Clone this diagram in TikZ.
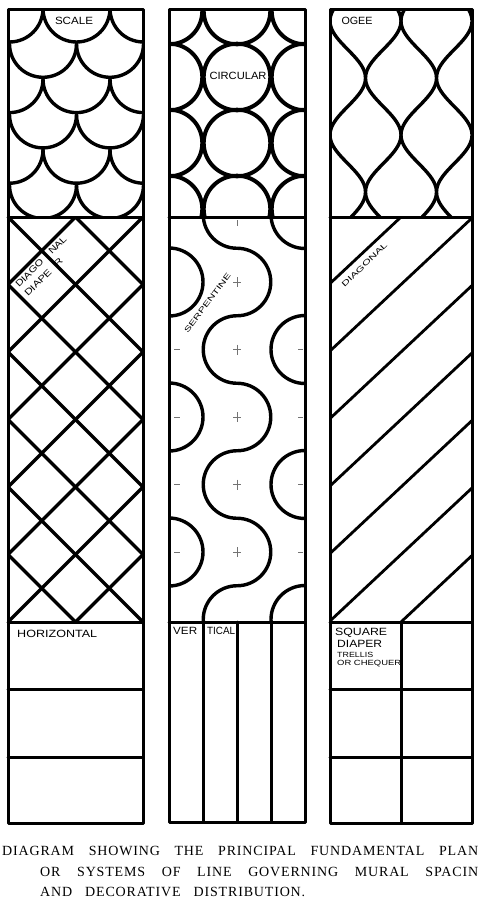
\documentclass[tikz,border=0pt]{standalone}
\usepackage{fontspec}
\usepackage{graphicx}
\setmainfont{Liberation Serif}
\newfontfamily\capfont[LetterSpace=6]{Liberation Serif}
\newfontfamily\handfont{Liberation Sans}
\newsavebox\lblbox
\newlength\lblw
\newcommand\fitw[2]{\sbox\lblbox{#2}\setlength\lblw{\wd\lblbox}\pgfmathsetmacro\fitf{#1/\lblw}\scalebox{\fitf}[1]{\usebox\lblbox}}
\begin{document}
\begin{tikzpicture}[x=1pt,y=-1pt,
  frame/.style={line width=3pt,line join=round,line cap=round},
  pat/.style={line width=3.4pt,line cap=round,line join=round},
  circ/.style={line width=4pt},
  lbl/.style={font=\handfont\fontsize{10.5}{12}\selectfont,inner sep=0pt},
  mlbl/.style={font=\handfont\fontsize{9}{10}\selectfont,inner sep=0pt},
  slbl/.style={font=\handfont\fontsize{7.5}{8}\selectfont,inner sep=0pt},
  caption/.style={font=\capfont\fontsize{14}{16}\selectfont,inner sep=0pt,anchor=base west},
  faint/.style={line width=0.6pt,black!55}]
\useasboundingbox (0,0) rectangle (480,900);

% ---------- column 1 top: scale ----------
\begin{scope}
  \clip (8,9) rectangle (143,217);
  \foreach \yc in {8.5,79.1,149.7}
    \foreach \xc in {9.5,76.5,143.5}
      \draw[pat] (\xc+33.5,\yc) arc[start angle=0,end angle=180,radius=33.5];
  \foreach \yc in {43.8,114.4,185}
    \foreach \xc in {43,110}
      \draw[pat] (\xc+33.5,\yc) arc[start angle=0,end angle=180,radius=33.5];
\end{scope}

% ---------- column 2 top: circular ----------
\begin{scope}
  \clip (169,9) rectangle (305,217);
  \foreach \yc in {11,77,143,209}
    \foreach \xc in {169,237,305}
      \draw[circ] (\xc,\yc) circle[radius=33.3];
\end{scope}

% ---------- column 3 top: ogee ----------
\begin{scope}
  \clip (330,9) rectangle (472,217);
  \foreach \c/\s in {347.75/-1,383.25/1,418.75/-1,454.25/1}
    \draw[pat] plot[domain=0:230,samples=140,variable=\t] ({\c+\s*17.75*cos(3.157895*(\t-21))},{\t});
\end{scope}

% ---------- column 1 middle: diagonal diaper ----------
\begin{scope}
  \clip (8,217) rectangle (143,622);
  \foreach \k in {-6,...,2}
    \draw[pat] (8,{217-67.5*\k}) -- (143,{352-67.5*\k});
  \foreach \k in {0,...,8}
    \draw[pat] (8,{217+67.5*\k}) -- (143,{82+67.5*\k});
\end{scope}

% ---------- column 2 middle: serpentine ----------
\begin{scope}
  \clip (169,217) rectangle (305,622);
  \draw[pat] (237,180.75)
    arc[start angle=270,end angle=90,radius=33.75]
    arc[start angle=-90,end angle=90,radius=33.75]
    arc[start angle=270,end angle=90,radius=33.75]
    arc[start angle=-90,end angle=90,radius=33.75]
    arc[start angle=270,end angle=90,radius=33.75]
    arc[start angle=-90,end angle=90,radius=33.75]
    arc[start angle=270,end angle=90,radius=33.75];
  \foreach \yc in {282,417,552}
    \draw[pat] (169,\yc-34) arc[start angle=-90,end angle=90,radius=34];
  \foreach \yc in {214.5,349.5,484.5,619.5}
    \draw[pat] (305,\yc-34) arc[start angle=270,end angle=90,radius=34];
  % faint construction marks
  \foreach \yc in {282,349.5,417,484.5,552} {
    \draw[faint] (233,\yc) -- (241,\yc);
    \draw[faint] (237,\yc-5) -- (237,\yc+5);
  }
  \draw[faint] (237,220) -- (237,226);
  \foreach \yc in {349.5,417,484.5,552} {
    \draw[faint] (174,\yc) -- (180,\yc);
    \draw[faint] (298,\yc) -- (303,\yc);
  }
\end{scope}

% ---------- column 3 middle: diagonal ----------
\begin{scope}
  \clip (330,217) rectangle (472,622);
  \foreach \k in {-1,...,5}
    \draw[pat,line width=2.8pt] (472,{218+67.5*\k}) -- (330,{351+67.5*\k});
\end{scope}

% ---------- frames and bottom panels ----------
\draw[frame] (8,9) rectangle (143,823);
\draw[frame] (8,217) -- (143,217);
\draw[frame] (8,622) -- (143,622);
\draw[frame] (8,689) -- (143,689);
\draw[frame] (8,757) -- (143,757);

\draw[frame] (169,9) rectangle (305,822);
\draw[frame] (169,217) -- (305,217);
\draw[frame] (169,622) -- (305,622);
\foreach \xv in {203,237,271}
  \draw[frame] (\xv,622) -- (\xv,822);

\draw[frame] (330,9) rectangle (472,823);
\draw[frame] (330,217) -- (472,217);
\draw[frame] (330,622) -- (472,622);
\draw[frame] (401,622) -- (401,823);
\draw[frame] (330,689) -- (472,689);
\draw[frame] (330,757) -- (472,757);

% ---------- labels ----------
\node[lbl] (lscale) at (74,21) {\fitw{38}{SCALE}};
\node[lbl] (lcirc) at (238,76) {\fitw{57}{CIRCULAR}};
\node[lbl] (logee) at (357,21) {\fitw{31}{OGEE}};
\node[mlbl,rotate=45,anchor=base west] (ldiag1) at (19,288) {\fitw{68}{DIAGO\hspace{9pt}NAL}};
\node[mlbl,rotate=45,anchor=base west] (ldiag2) at (28,297) {\fitw{50}{DIAPE\hspace{6pt}R}};
\node[slbl,rotate=53] (lserp) at (207.5,303) {\fitw{72}{SERPENTINE}};
\node[slbl,rotate=44] (ldiagonal) at (364.5,265) {\fitw{60}{DIAGONAL}};
\node[lbl,anchor=west] (lhoriz) at (17,634) {\fitw{80}{HORIZONTAL}};
\node[lbl,anchor=west] (lver) at (173,631) {\fitw{24}{VER}};
\node[lbl,anchor=west] (ltical) at (207,631) {\fitw{28}{TICAL}};
\node[lbl,anchor=west] (lsquare) at (335,633) {\fitw{52}{SQUARE}};
\node[lbl,anchor=west] (ldiaper) at (337,644) {\fitw{45}{DIAPER}};
\node[slbl,anchor=west] (ltrellis) at (337,654.5) {\fitw{36}{TRELLIS}};
\node[slbl,anchor=west] (lcheq) at (337,664) {\fitw{64}{OR CHEQUER}};

% ---------- caption ----------
\node[caption] (cap1) at (2,855.5) {\makebox[476pt][s]{DIAGRAM SHOWING THE PRINCIPAL FUNDAMENTAL PLAN}};
\node[caption] (cap2) at (40,876) {\makebox[438pt][s]{OR SYSTEMS OF LINE GOVERNING MURAL SPACIN}};
\node[caption] (cap3) at (40,896) {\makebox[265pt][s]{AND DECORATIVE DISTRIBUTION.}};
\end{tikzpicture}
\end{document}
